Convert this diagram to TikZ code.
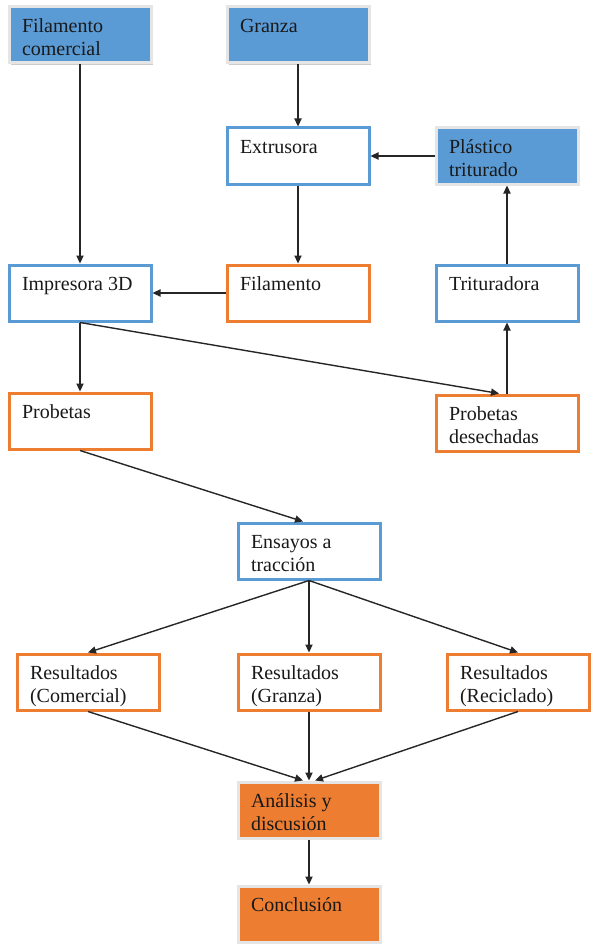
\documentclass[tikz,border=0pt]{standalone}
\usepackage{fontspec}
\setmainfont{Liberation Serif}
\usetikzlibrary{arrows.meta,shadows}
\definecolor{officeblue}{HTML}{5B9BD5}
\definecolor{officeorange}{HTML}{ED7D31}
\newcommand{\cell}[1]{\parbox[c][16pt][t]{58pt}{\raggedright #1}}

\begin{document}
\begin{tikzpicture}[x=0.5pt,y=-0.5pt,
  font=\fontsize{10pt}{11.5pt}\selectfont,
  box/.style={rectangle,inner xsep=6.5pt,inner ysep=6pt,line width=1.5pt,fill=white,text=black!90},
  bluebox/.style={box,draw=officeblue},
  orangebox/.style={box,draw=officeorange},
  shadowbox/.style={box,draw=black!10,drop shadow={shadow xshift=0.8pt,shadow yshift=-1pt,opacity=0.4}},
  bluefill/.style={shadowbox,fill=officeblue},
  orangefill/.style={shadowbox,fill=officeorange},
  flow/.style={-{Triangle[length=4pt,width=3.6pt]},line width=0.7pt,draw=black!85}]
\useasboundingbox (0,0) rectangle (592,947);
% top row
\node[bluefill] (fcom) at (80,35) {\cell{Filamento\\comercial}};
\node[bluefill] (granza) at (298,35) {\cell{Granza}};
% extrusion loop
\node[bluebox] (extr) at (298,156) {\cell{Extrusora}};
\node[bluefill] (plast) at (507,156) {\cell{Plástico\\triturado}};
\node[bluebox] (impr) at (80,293) {\cell{Impresora 3D}};
\node[orangebox] (fil) at (298,293) {\cell{Filamento}};
\node[bluebox] (trit) at (507,293) {\cell{Trituradora}};
\node[orangebox] (prob) at (80,421) {\cell{Probetas}};
\node[orangebox] (pdes) at (507,423) {\cell{Probetas\\desechadas}};
% tests and results
\node[bluebox] (ens) at (309,551) {\cell{Ensayos a\\tracción}};
\node[orangebox] (rcom) at (88,682) {\cell{Resultados\\(Comercial)}};
\node[orangebox] (rgra) at (309,682) {\cell{Resultados\\(Granza)}};
\node[orangebox] (rrec) at (518,682) {\cell{Resultados\\(Reciclado)}};
\node[orangefill] (anal) at (309,810) {\cell{Análisis y\\discusión}};
\node[orangefill] (concl) at (309,914) {\cell{Conclusión}};
% connectors
\draw[flow] (fcom) -- (impr);
\draw[flow] (granza) -- (extr);
\draw[flow] (plast) -- (extr);
\draw[flow] (extr) -- (fil);
\draw[flow] (fil) -- (impr);
\draw[flow] (trit) -- (plast);
\draw[flow] (impr.south) -- (prob.north);
\draw[flow] (impr.south) -- ([xshift=-4pt]pdes.north);
\draw[flow] (pdes) -- (trit);
\draw[flow] (prob.south) -- ([xshift=-3pt]ens.north);
\draw[flow] (ens.south) -- (rcom.north);
\draw[flow] (ens.south) -- (rgra.north);
\draw[flow] (ens.south) -- (rrec.north);
\draw[flow] (rcom.south) -- ([xshift=-3pt]anal.north);
\draw[flow] (rgra.south) -- (anal.north);
\draw[flow] (rrec.south) -- ([xshift=3pt]anal.north);
\draw[flow] (anal) -- (concl);
\end{tikzpicture}
\end{document}
